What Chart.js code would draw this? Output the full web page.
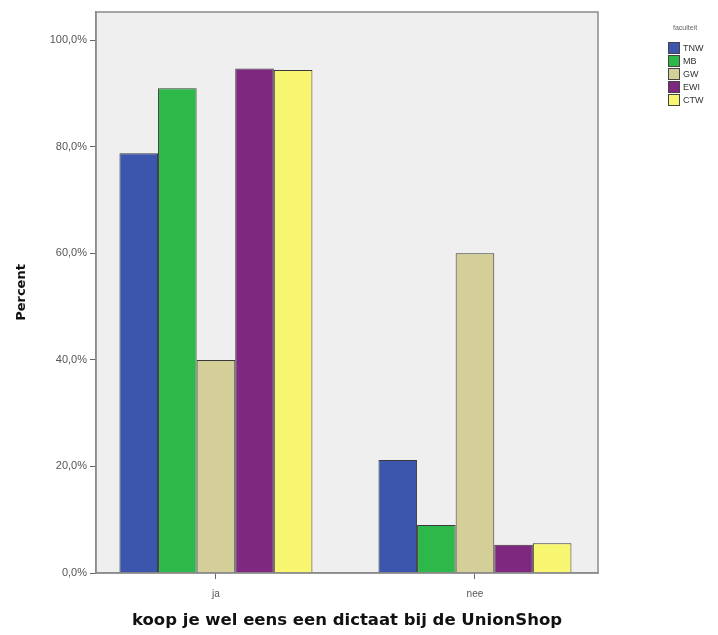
<!DOCTYPE html>
<html>
<head>
<meta charset="utf-8">
<script src="https://cdn.jsdelivr.net/npm/chart.js@4/dist/chart.umd.min.js"></script>
<style>
  html, body { margin: 0; padding: 0; background: #fff; }
  #wrap { width: 718px; height: 635px; position: relative; }
</style>
</head>
<body>
<div id="wrap"><canvas id="chart"></canvas></div>
<script>
// answers on the x axis
const categories = ['ja', 'nee'];
// faculties (legend)
const faculties = ['TNW', 'MB', 'GW', 'EWI', 'CTW'];
const colors = ['#3d56ad', '#2fb84a', '#d4cf98', '#7e287f', '#f8f671'];
// percent per faculty: [ja, nee]
const tnw = [78.8, 21.2];
const mb = [91.0, 9.0];
const gw = [40.0, 60.0];
const ewi = [94.7, 5.3];
const ctw = [94.4, 5.6];
const yTicks = [0, 20, 40, 60, 80, 100];

const series = [tnw, mb, gw, ewi, ctw];

const plotBg = {
  id: 'plotBg',
  beforeDraw(chart) {
    const { ctx, chartArea: a } = chart;
    ctx.save();
    ctx.fillStyle = '#efefef';
    ctx.fillRect(a.left, a.top, a.right - a.left, a.bottom - a.top);
    ctx.restore();
  },
  afterDatasetsDraw(chart) {
    const { ctx, chartArea: a } = chart;
    ctx.save();
    ctx.strokeStyle = '#8a8a8a';
    ctx.lineWidth = 1.5;
    ctx.strokeRect(a.left, a.top, a.right - a.left, a.bottom - a.top);
    ctx.restore();
  }
};

// small legend on the right, SPSS style
const sideLegend = {
  id: 'sideLegend',
  afterDraw(chart) {
    const ctx = chart.ctx;
    ctx.save();
    ctx.font = '7px "Liberation Sans", Arial, sans-serif';
    ctx.fillStyle = '#666';
    ctx.textBaseline = 'middle';
    ctx.fillText('faculteit', 673, 28);
    ctx.font = '9px "Liberation Sans", Arial, sans-serif';
    chart.data.datasets.forEach((ds, i) => {
      const y = 42 + i * 13;
      ctx.fillStyle = ds.backgroundColor;
      ctx.fillRect(668, y, 12, 12);
      ctx.strokeStyle = '#444';
      ctx.lineWidth = 1;
      ctx.strokeRect(668.5, y + 0.5, 11, 11);
      ctx.fillStyle = '#333';
      ctx.fillText(ds.label, 683, y + 6.5);
    });
    ctx.restore();
  }
};

new Chart(document.getElementById('chart'), {
  type: 'bar',
  data: {
    datasets: faculties.map((f, i) => ({
      label: f,
      data: series[i].map((v, j) => ({ x: j, y: v })),
      backgroundColor: colors[i],
      borderColor: '#3a3a3a',
      borderWidth: 1,
      categoryPercentage: 0.745,
      barPercentage: 1
    }))
  },
  options: {
    responsive: true,
    maintainAspectRatio: false,
    animation: false,
    layout: { padding: { top: 12, right: 120, left: 10, bottom: 0 } },
    plugins: {
      legend: { display: false },
      tooltip: { enabled: false }
    },
    scales: {
      x: {
        type: 'linear',
        min: -0.463,
        max: 1.475,
        offset: false,
        border: { color: '#8a8a8a', width: 1.5 },
        grid: { display: true, offset: false, drawOnChartArea: false, tickLength: 6, color: '#666' },
        afterBuildTicks(s) { s.ticks = categories.map((c, i) => ({ value: i })); },
        ticks: {
          color: '#555',
          font: { family: '"Liberation Sans", Arial, sans-serif', size: 10 },
          padding: 9,
          callback: v => categories[v]
        },
        title: {
          display: true,
          text: 'koop je wel eens een dictaat bij de UnionShop',
          color: '#111',
          font: { family: '"DejaVu Sans", Verdana, sans-serif', size: 16.5, weight: 'bold' },
          padding: { top: 6 }
        },
        afterFit(s) { s.height = 62; }
      },
      y: {
        min: 0,
        max: 105.3,
        border: { color: '#8a8a8a', width: 1.5 },
        grid: { drawOnChartArea: false, tickLength: 6, color: '#666' },
        afterBuildTicks(s) { s.ticks = yTicks.map(v => ({ value: v })); },
        ticks: {
          color: '#555',
          font: { family: '"Liberation Sans", Arial, sans-serif', size: 11 },
          padding: 3,
          callback: v => v.toFixed(1).replace('.', ',') + '%'
        },
        title: {
          display: true,
          text: 'Percent',
          color: '#111',
          font: { family: '"DejaVu Sans", Verdana, sans-serif', size: 13, weight: 'bold' },
          padding: { bottom: 4 }
        },
        afterFit(s) { s.width = 86; }
      }
    }
  },
  plugins: [plotBg, sideLegend]
});
</script>
</body>
</html>
